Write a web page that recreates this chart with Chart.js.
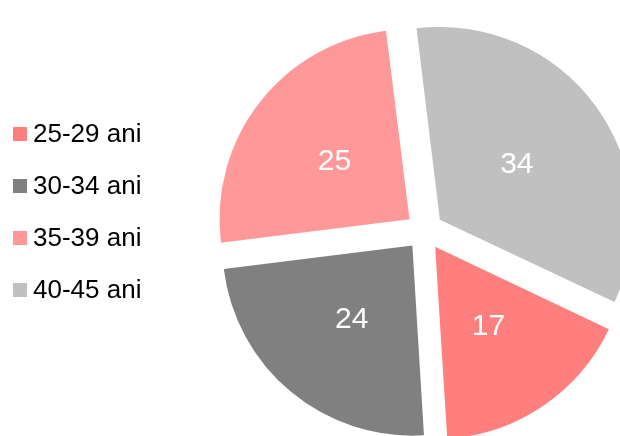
<!DOCTYPE html>
<html lang="ro">
<head>
<meta charset="UTF-8">
<title>Grupe de vârstă</title>
<style>
  html, body { margin: 0; padding: 0; background: #fff; }
</style>
</head>
<body>
<canvas id="pieChart" width="620" height="436"></canvas>
<script src="https://cdn.jsdelivr.net/npm/chart.js@4/dist/chart.umd.min.js"></script>
<script>
// data
var categories = ['25-29 ani', '30-34 ani', '35-39 ani', '40-45 ani'];
var values = [17, 24, 25, 34];
var colors = ['#FF7F7F', '#808080', '#FF9999', '#C0C0C0'];

var FONT = "'Liberation Sans', Arial, sans-serif";
var OFFSET = 76; // explode distance passed to Chart.js (slice moves OFFSET/4)

// white value labels in the middle of each slice
var valueLabels = {
  id: 'valueLabels',
  afterDatasetsDraw: function(chart) {
    var ctx = chart.ctx;
    var meta = chart.getDatasetMeta(0);
    ctx.save();
    ctx.fillStyle = '#fff';
    ctx.font = '30px ' + FONT;
    ctx.textAlign = 'center';
    ctx.textBaseline = 'middle';
    meta.data.forEach(function(arc, i) {
      var mid = (arc.startAngle + arc.endAngle) / 2;
      var r = arc.outerRadius / 2 + OFFSET / 4;
      ctx.fillText(String(values[i]), arc.x + Math.cos(mid) * r, arc.y + Math.sin(mid) * r + 1);
    });
    ctx.restore();
  }
};

// legend on the left: square swatch + label, one row per category
var sideLegend = {
  id: 'sideLegend',
  afterDraw: function(chart) {
    var ctx = chart.ctx;
    var rowH = 52, firstY = 134;
    ctx.save();
    ctx.font = '26px ' + FONT;
    ctx.textBaseline = 'middle';
    ctx.textAlign = 'left';
    categories.forEach(function(name, i) {
      var y = firstY + i * rowH;
      ctx.fillStyle = colors[i];
      ctx.fillRect(13, y - 7, 14, 14);
      ctx.fillStyle = '#000';
      ctx.fillText(name, 33, y + 1);
    });
    ctx.restore();
  }
};

var chart = new Chart(document.getElementById('pieChart'), {
  type: 'pie',
  data: {
    labels: categories,
    datasets: [{
      data: values,
      backgroundColor: colors,
      borderWidth: 0,
      offset: OFFSET,
      clip: false
    }]
  },
  options: {
    responsive: false,
    animation: false,
    rotation: 115.3,
    radius: 190,
    layout: { padding: { top: 26, left: 229, right: 0, bottom: 0 } },
    plugins: {
      tooltip: { enabled: false },
      legend: { display: false }
    }
  },
  plugins: [valueLabels, sideLegend]
});
</script>
</body>
</html>
